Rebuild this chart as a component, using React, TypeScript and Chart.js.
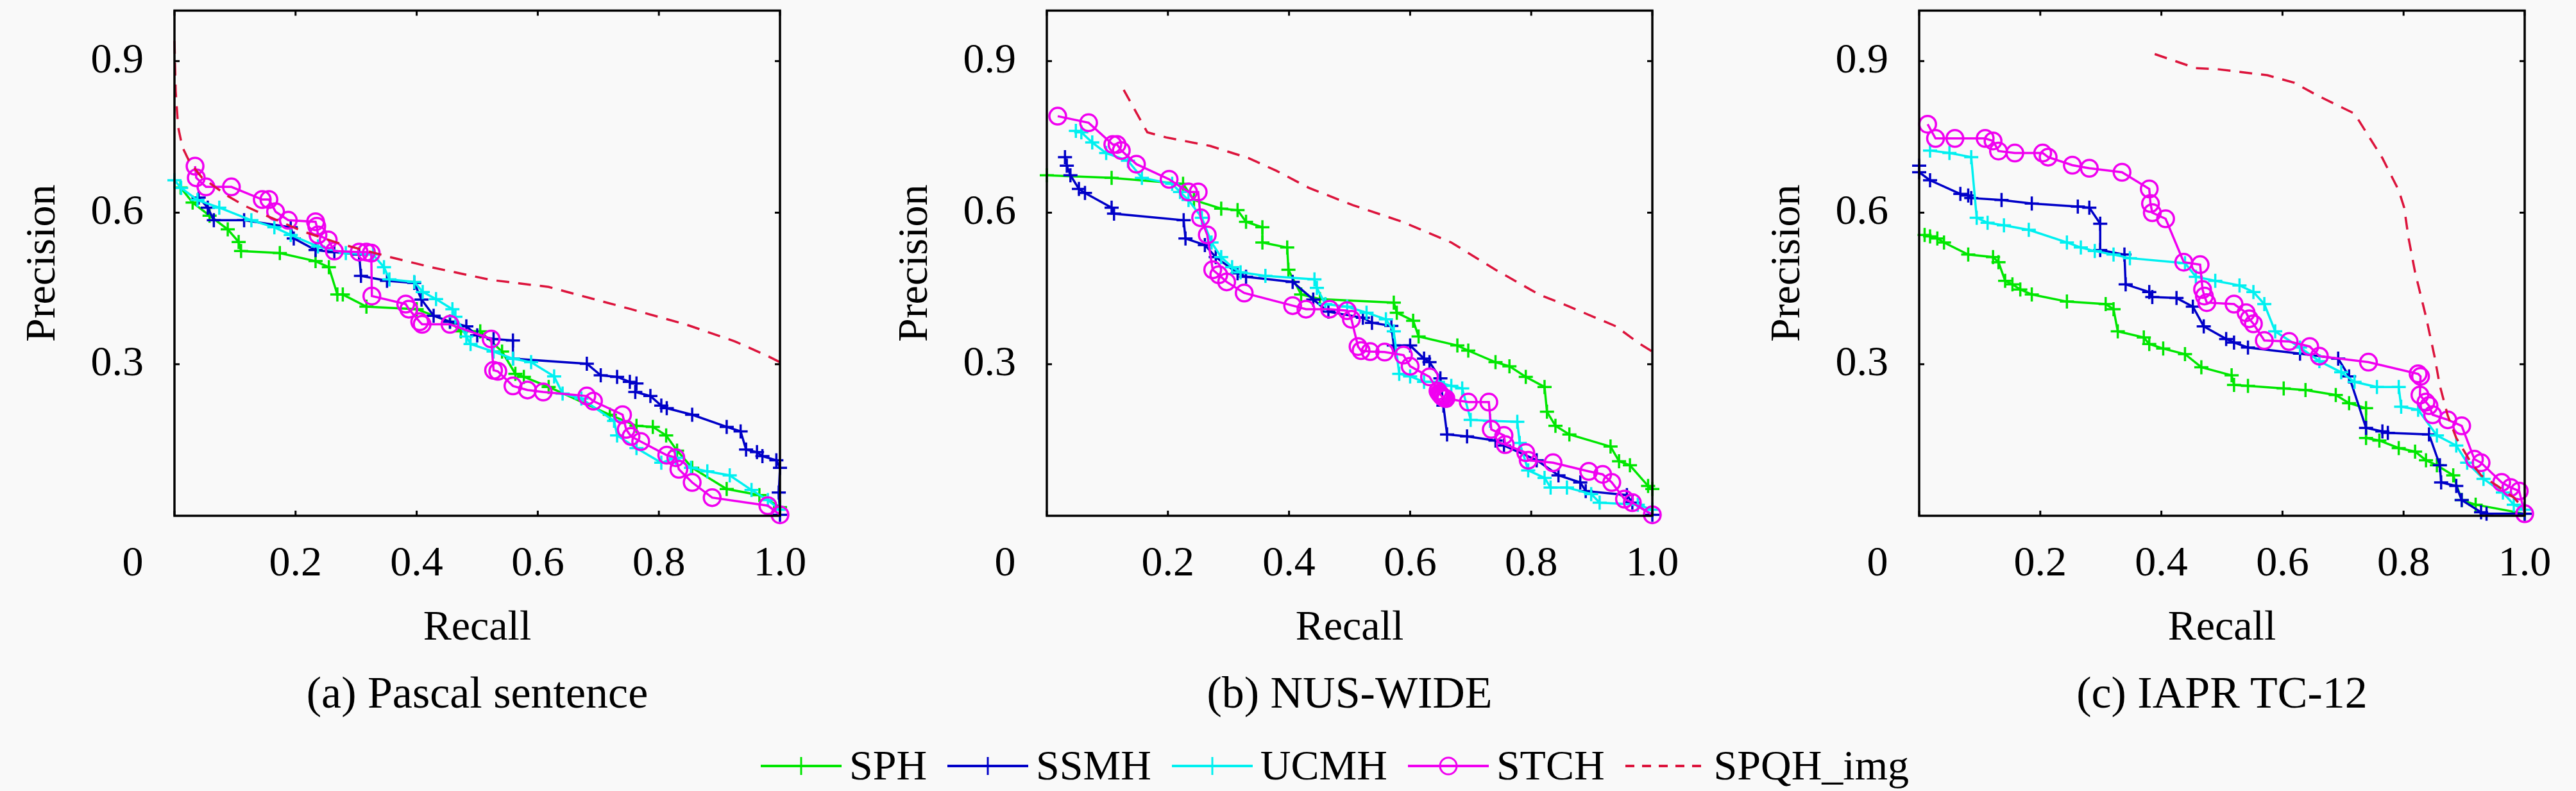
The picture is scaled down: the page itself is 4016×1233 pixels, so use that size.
import React, { useEffect, useRef } from 'react';
import { Chart, registerables } from 'chart.js';

Chart.register(...registerables);

type Pt = [number, number]; // [recall, precision]

const X_TICKS = [0, 0.2, 0.4, 0.6, 0.8, 1.0];
const X_LABELS = ['0', '0.2', '0.4', '0.6', '0.8', '1.0'];
const Y_TICKS = [0.3, 0.6, 0.9];
const Y_LABELS = ['0.3', '0.6', '0.9'];
const SERIES_NAMES = ['SPH', 'SSMH', 'UCMH', 'STCH', 'SPQH_img'];
const CAPTIONS = ['(a) Pascal sentence', '(b) NUS-WIDE', '(c) IAPR TC-12'];

// (a) Pascal sentence
const SPH_PASCAL: Pt[] = [
  [0.01, 0.65], [0.03, 0.62], [0.058, 0.594], [0.088, 0.567], [0.106, 0.542], [0.11, 0.524], [0.174, 0.52],
  [0.233, 0.504], [0.255, 0.492], [0.269, 0.438], [0.278, 0.438], [0.317, 0.414], [0.4, 0.409], [0.455, 0.384],
  [0.473, 0.365], [0.505, 0.365], [0.541, 0.325], [0.563, 0.281], [0.577, 0.275], [0.618, 0.255], [0.719, 0.2],
  [0.763, 0.178], [0.79, 0.176], [0.812, 0.159], [0.83, 0.129], [0.855, 0.095], [0.912, 0.053], [0.966, 0.041],
  [1.0, 0.017],
];
const SSMH_PASCAL: Pt[] = [
  [0.04, 0.63], [0.055, 0.61], [0.065, 0.585], [0.115, 0.585], [0.192, 0.571], [0.197, 0.549], [0.233, 0.526],
  [0.264, 0.522], [0.305, 0.517], [0.308, 0.475], [0.351, 0.465], [0.396, 0.461], [0.408, 0.428], [0.428, 0.396],
  [0.455, 0.384], [0.482, 0.375], [0.5, 0.357], [0.527, 0.35], [0.559, 0.347], [0.559, 0.311], [0.681, 0.301],
  [0.704, 0.278], [0.731, 0.275], [0.752, 0.265], [0.763, 0.262], [0.761, 0.245], [0.786, 0.237], [0.804, 0.218],
  [0.813, 0.213], [0.855, 0.2], [0.912, 0.176], [0.935, 0.167], [0.944, 0.131], [0.962, 0.126], [0.971, 0.118],
  [0.994, 0.11], [1.0, 0.095], [0.998, 0.046], [1.0, 0.002],
];
const UCMH_PASCAL: Pt[] = [
  [0, 0.664], [0.011, 0.649], [0.038, 0.625], [0.074, 0.61], [0.127, 0.585], [0.165, 0.571], [0.192, 0.556],
  [0.237, 0.533], [0.283, 0.52], [0.328, 0.517], [0.346, 0.492], [0.355, 0.468], [0.396, 0.463], [0.41, 0.443],
  [0.432, 0.429], [0.459, 0.409], [0.464, 0.394], [0.482, 0.355], [0.489, 0.34], [0.527, 0.325], [0.559, 0.311],
  [0.589, 0.304], [0.627, 0.276], [0.641, 0.242], [0.672, 0.232], [0.726, 0.188], [0.731, 0.159], [0.763, 0.134],
  [0.804, 0.105], [0.828, 0.115], [0.853, 0.095], [0.88, 0.088], [0.917, 0.08], [0.953, 0.051], [0.98, 0.031],
  [1.0, 0.012],
];
const STCH_PASCAL: Pt[] = [
  [0.034, 0.692], [0.036, 0.669], [0.052, 0.651], [0.094, 0.651], [0.145, 0.626], [0.156, 0.626], [0.167, 0.602],
  [0.188, 0.585], [0.233, 0.582], [0.235, 0.573], [0.237, 0.556], [0.254, 0.546], [0.264, 0.524], [0.305, 0.522],
  [0.317, 0.522], [0.325, 0.52], [0.326, 0.435], [0.382, 0.419], [0.387, 0.409], [0.405, 0.384], [0.409, 0.379],
  [0.455, 0.379], [0.523, 0.35], [0.527, 0.288], [0.534, 0.286], [0.559, 0.257], [0.583, 0.249], [0.609, 0.245],
  [0.681, 0.237], [0.692, 0.227], [0.74, 0.2], [0.746, 0.171], [0.754, 0.157], [0.77, 0.147], [0.813, 0.12],
  [0.828, 0.115], [0.833, 0.092], [0.855, 0.066], [0.888, 0.036], [0.98, 0.02], [1.0, 0.002],
];
const SPQH_PASCAL: Pt[] = [
  [0, 0.94], [0.002, 0.84], [0.006, 0.77], [0.013, 0.73], [0.025, 0.7], [0.045, 0.67], [0.088, 0.633],
  [0.117, 0.613], [0.148, 0.596], [0.212, 0.563], [0.275, 0.538], [0.353, 0.513], [0.424, 0.492], [0.522, 0.467],
  [0.618, 0.453], [0.754, 0.409], [0.844, 0.379], [0.926, 0.345], [0.98, 0.316], [1.0, 0.304],
];

// (b) NUS-WIDE
const SPH_NUS: Pt[] = [
  [0, 0.674], [0.107, 0.669], [0.225, 0.657], [0.243, 0.625], [0.288, 0.608], [0.315, 0.605], [0.329, 0.582],
  [0.356, 0.571], [0.356, 0.541], [0.397, 0.531], [0.399, 0.487], [0.42, 0.438], [0.451, 0.429], [0.573, 0.422],
  [0.578, 0.402], [0.605, 0.386], [0.614, 0.355], [0.678, 0.337], [0.696, 0.327], [0.741, 0.304], [0.764, 0.296],
  [0.791, 0.275], [0.822, 0.255], [0.826, 0.206], [0.84, 0.178], [0.863, 0.161], [0.931, 0.137], [0.945, 0.108],
  [0.963, 0.1], [0.993, 0.059], [1.0, 0.053],
];
const SSMH_NUS: Pt[] = [
  [0.03, 0.71], [0.033, 0.693], [0.039, 0.674], [0.053, 0.647], [0.063, 0.639], [0.107, 0.61], [0.111, 0.598],
  [0.226, 0.585], [0.229, 0.549], [0.261, 0.536], [0.279, 0.512], [0.315, 0.48], [0.329, 0.473], [0.406, 0.463],
  [0.44, 0.428], [0.465, 0.404], [0.522, 0.392], [0.537, 0.382], [0.569, 0.376], [0.573, 0.337], [0.6, 0.337],
  [0.623, 0.311], [0.632, 0.304], [0.65, 0.272], [0.655, 0.218], [0.661, 0.161], [0.694, 0.157], [0.741, 0.149],
  [0.755, 0.139], [0.809, 0.11], [0.845, 0.08], [0.881, 0.066], [0.89, 0.049], [0.958, 0.041], [0.967, 0.026],
  [1.0, 0.002],
];
const UCMH_NUS: Pt[] = [
  [0.048, 0.762], [0.057, 0.759], [0.075, 0.739], [0.098, 0.718], [0.134, 0.703], [0.157, 0.669], [0.207, 0.657],
  [0.22, 0.641], [0.234, 0.625], [0.256, 0.59], [0.272, 0.541], [0.288, 0.512], [0.306, 0.492], [0.32, 0.482],
  [0.361, 0.475], [0.442, 0.468], [0.446, 0.451], [0.46, 0.419], [0.496, 0.414], [0.528, 0.402], [0.56, 0.389],
  [0.573, 0.365], [0.582, 0.281], [0.6, 0.276], [0.623, 0.265], [0.646, 0.265], [0.668, 0.257], [0.686, 0.252],
  [0.7, 0.19], [0.732, 0.188], [0.777, 0.186], [0.781, 0.144], [0.795, 0.09], [0.822, 0.075], [0.832, 0.056],
  [0.859, 0.056], [0.899, 0.043], [0.913, 0.026], [0.976, 0.022], [1.0, 0.012],
];
const STCH_NUS: Pt[] = [
  [0.018, 0.791], [0.069, 0.778], [0.109, 0.735], [0.116, 0.735], [0.123, 0.723], [0.148, 0.696], [0.202, 0.666],
  [0.234, 0.641], [0.25, 0.641], [0.254, 0.59], [0.265, 0.556], [0.274, 0.487], [0.284, 0.477], [0.297, 0.463],
  [0.326, 0.441], [0.406, 0.416], [0.428, 0.409], [0.467, 0.409], [0.496, 0.406], [0.503, 0.389], [0.514, 0.335],
  [0.519, 0.327], [0.534, 0.325], [0.558, 0.324], [0.589, 0.318], [0.6, 0.296], [0.632, 0.275], [0.646, 0.247],
  [0.648, 0.243], [0.65, 0.24], [0.652, 0.237], [0.654, 0.235], [0.657, 0.233], [0.659, 0.232], [0.696, 0.225],
  [0.73, 0.225], [0.734, 0.171], [0.755, 0.159], [0.757, 0.141], [0.791, 0.125], [0.795, 0.11], [0.836, 0.105],
  [0.895, 0.088], [0.918, 0.082], [0.933, 0.066], [0.954, 0.033], [0.967, 0.026], [1.0, 0.002],
];
const SPQH_NUS: Pt[] = [
  [0.127, 0.843], [0.166, 0.759], [0.197, 0.749], [0.27, 0.732], [0.333, 0.708], [0.379, 0.683], [0.433, 0.649],
  [0.505, 0.615], [0.587, 0.582], [0.668, 0.541], [0.741, 0.487], [0.813, 0.438], [0.859, 0.416], [0.94, 0.375],
  [0.976, 0.343], [1.0, 0.325],
];

// (c) IAPR TC-12
const SPH_IAPR: Pt[] = [
  [0.009, 0.556], [0.018, 0.553], [0.03, 0.549], [0.041, 0.541], [0.081, 0.517], [0.122, 0.512], [0.131, 0.502],
  [0.142, 0.465], [0.154, 0.458], [0.167, 0.448], [0.186, 0.438], [0.244, 0.424], [0.308, 0.419], [0.321, 0.409],
  [0.328, 0.365], [0.371, 0.353], [0.38, 0.34], [0.403, 0.331], [0.439, 0.32], [0.466, 0.294], [0.516, 0.278],
  [0.52, 0.259], [0.543, 0.257], [0.602, 0.252], [0.638, 0.249], [0.688, 0.239], [0.71, 0.223], [0.738, 0.213],
  [0.738, 0.154], [0.76, 0.149], [0.792, 0.134], [0.819, 0.127], [0.837, 0.11], [0.855, 0.1], [0.882, 0.08],
  [0.896, 0.031], [0.919, 0.022], [1.0, 0.004],
];
const SSMH_IAPR: Pt[] = [
  [0, 0.693], [0, 0.68], [0.018, 0.664], [0.068, 0.637], [0.081, 0.634], [0.086, 0.629], [0.136, 0.625],
  [0.186, 0.618], [0.262, 0.612], [0.281, 0.61], [0.299, 0.578], [0.299, 0.526], [0.339, 0.517], [0.341, 0.458],
  [0.38, 0.443], [0.385, 0.433], [0.425, 0.431], [0.452, 0.414], [0.47, 0.375], [0.507, 0.35], [0.52, 0.343],
  [0.543, 0.333], [0.629, 0.321], [0.692, 0.311], [0.71, 0.276], [0.738, 0.174], [0.765, 0.167], [0.774, 0.164],
  [0.842, 0.161], [0.86, 0.1], [0.862, 0.066], [0.887, 0.059], [0.896, 0.031], [0.928, 0.007], [0.937, 0.004],
  [1.0, 0.004],
];
const UCMH_IAPR: Pt[] = [
  [0.018, 0.723], [0.05, 0.718], [0.086, 0.71], [0.095, 0.59], [0.113, 0.58], [0.14, 0.575], [0.181, 0.566],
  [0.244, 0.541], [0.267, 0.531], [0.29, 0.524], [0.321, 0.517], [0.348, 0.51], [0.439, 0.5], [0.457, 0.473],
  [0.489, 0.465], [0.529, 0.456], [0.552, 0.443], [0.57, 0.419], [0.588, 0.365], [0.629, 0.333], [0.661, 0.306],
  [0.697, 0.284], [0.719, 0.265], [0.756, 0.255], [0.792, 0.255], [0.796, 0.216], [0.824, 0.21], [0.855, 0.159],
  [0.887, 0.139], [0.905, 0.105], [0.932, 0.073], [0.964, 0.046], [0.982, 0.022], [1.0, 0.012],
];
const STCH_IAPR: Pt[] = [
  [0.014, 0.775], [0.027, 0.747], [0.059, 0.747], [0.109, 0.747], [0.122, 0.742], [0.131, 0.722], [0.158, 0.718],
  [0.204, 0.718], [0.213, 0.71], [0.253, 0.694], [0.281, 0.688], [0.335, 0.68], [0.38, 0.647], [0.382, 0.618],
  [0.385, 0.6], [0.407, 0.588], [0.437, 0.502], [0.464, 0.497], [0.468, 0.448], [0.471, 0.435], [0.475, 0.422],
  [0.52, 0.419], [0.54, 0.402], [0.545, 0.39], [0.552, 0.38], [0.57, 0.347], [0.611, 0.345], [0.645, 0.335],
  [0.661, 0.316], [0.742, 0.304], [0.824, 0.281], [0.828, 0.276], [0.827, 0.239], [0.837, 0.225], [0.842, 0.218],
  [0.848, 0.2], [0.873, 0.19], [0.896, 0.178], [0.917, 0.112], [0.928, 0.105], [0.962, 0.066], [0.977, 0.056],
  [0.991, 0.049], [1.0, 0.004],
];
const SPQH_IAPR: Pt[] = [
  [0.389, 0.914], [0.457, 0.886], [0.493, 0.884], [0.575, 0.872], [0.62, 0.857], [0.656, 0.833], [0.719, 0.796],
  [0.742, 0.752], [0.765, 0.708], [0.792, 0.644], [0.801, 0.61], [0.808, 0.551], [0.819, 0.482], [0.837, 0.394],
  [0.851, 0.316], [0.86, 0.257], [0.873, 0.198], [0.887, 0.154], [0.91, 0.108], [0.928, 0.08], [0.955, 0.059],
  [0.982, 0.036], [1.0, 0.012],
];

const PANELS: Pt[][][] = [
  [SPH_PASCAL, SSMH_PASCAL, UCMH_PASCAL, STCH_PASCAL, SPQH_PASCAL],
  [SPH_NUS, SSMH_NUS, UCMH_NUS, STCH_NUS, SPQH_NUS],
  [SPH_IAPR, SSMH_IAPR, UCMH_IAPR, STCH_IAPR, SPQH_IAPR],
];

// styling
const COLORS = ['#00e600', '#0000c8', '#00f0f0', '#f000f0', '#dc143c'];
const FONT_FAMILY = '"Liberation Serif", "Times New Roman", serif';
const FONT_SIZE = 66;
const BG = '#f9f9f9';
const CANVAS_W = 1360;
const CANVAS_H = 1040;
const TICK_PAD_X = 36;

const boxPlugin = {
  id: 'matlabBox',
  afterDraw(chart: any) {
    const { ctx, chartArea: a, scales } = chart;
    ctx.save();
    ctx.strokeStyle = '#000';
    ctx.lineWidth = 3.5;
    ctx.strokeRect(a.left, a.top, a.right - a.left, a.bottom - a.top);
    ctx.lineWidth = 3;
    const len = 8;
    ctx.beginPath();
    X_TICKS.forEach((v) => {
      const px = scales.x.getPixelForValue(v);
      ctx.moveTo(px, a.bottom);
      ctx.lineTo(px, a.bottom - len);
      ctx.moveTo(px, a.top);
      ctx.lineTo(px, a.top + len);
    });
    Y_TICKS.forEach((v) => {
      const py = scales.y.getPixelForValue(v);
      ctx.moveTo(a.left, py);
      ctx.lineTo(a.left + len, py);
      ctx.moveTo(a.right, py);
      ctx.lineTo(a.right - len, py);
    });
    ctx.stroke();
    // origin label sits left of the corner
    ctx.fillStyle = '#000';
    ctx.font = `${FONT_SIZE}px ${FONT_FAMILY}`;
    ctx.textAlign = 'center';
    ctx.textBaseline = 'middle';
    ctx.fillText(X_LABELS[0], scales.x.getPixelForValue(X_TICKS[0]) - 65, a.bottom + TICK_PAD_X + FONT_SIZE * 0.6);
    ctx.restore();
  },
};

const makeConfig = (idx: number): any => ({
  type: 'scatter',
  data: {
    datasets: PANELS[idx].map((pts, i) => ({
      label: SERIES_NAMES[i],
      data: pts.map(([x, y]) => ({ x, y })),
      showLine: true,
      borderColor: COLORS[i],
      backgroundColor: 'transparent',
      borderWidth: 3.5,
      borderDash: i === 4 ? [20, 14] : [],
      pointStyle: i === 3 ? 'circle' : 'cross',
      pointRadius: i === 4 ? 0 : i === 3 ? 13 : 11,
      pointBorderWidth: 3.5,
      pointBorderColor: COLORS[i],
      pointBackgroundColor: 'transparent',
      order: 5 - i,
      clip: false,
    })),
  },
  options: {
    animation: false,
    responsive: false,
    devicePixelRatio: 1,
    layout: { padding: { left: 0, right: 144, top: 0, bottom: 16 } },
    plugins: { legend: { display: false }, tooltip: { enabled: false } },
    scales: {
      x: {
        type: 'linear',
        min: 0,
        max: 1,
        afterBuildTicks: (s: any) => {
          s.ticks = X_TICKS.map((value) => ({ value }));
        },
        afterFit: (s: any) => {
          s.height = 220;
          s.paddingLeft = 0;
          s.paddingRight = 0;
          s.paddingTop = 0;
          s.paddingBottom = 0;
        },
        ticks: {
          autoSkip: false,
          maxRotation: 0,
          padding: TICK_PAD_X,
          color: '#000',
          font: { family: FONT_FAMILY, size: FONT_SIZE },
          callback: (_v: any, i: number) => (i === 0 ? '' : X_LABELS[i]),
        },
        grid: { display: false, drawTicks: false },
        border: { display: false },
        title: {
          display: true,
          text: 'Recall',
          color: '#000',
          font: { family: FONT_FAMILY, size: FONT_SIZE },
          padding: { top: 0, bottom: 5 },
        },
      },
      y: {
        type: 'linear',
        min: 0,
        max: 1,
        afterBuildTicks: (s: any) => {
          s.ticks = Y_TICKS.map((value) => ({ value }));
        },
        afterFit: (s: any) => {
          s.width = 272;
          s.paddingLeft = 0;
          s.paddingRight = 0;
          s.paddingTop = 0;
          s.paddingBottom = 0;
        },
        ticks: {
          autoSkip: false,
          padding: 48,
          color: '#000',
          font: { family: FONT_FAMILY, size: FONT_SIZE },
          callback: (_v: any, i: number) => Y_LABELS[i],
        },
        grid: { display: false, drawTicks: false },
        border: { display: false },
        title: {
          display: true,
          text: 'Precision',
          color: '#000',
          font: { family: FONT_FAMILY, size: FONT_SIZE },
          padding: { top: 28, bottom: 0 },
        },
      },
    },
  },
  plugins: [boxPlugin],
});

const Panel: React.FC<{ idx: number }> = ({ idx }) => {
  const canvasRef = useRef<HTMLCanvasElement>(null);

  useEffect(() => {
    if (!canvasRef.current) return;
    const chart = new Chart(canvasRef.current, makeConfig(idx));
    return () => {
      chart.destroy();
    };
  }, [idx]);

  return (
    <>
      <canvas
        ref={canvasRef}
        width={CANVAS_W}
        height={CANVAS_H}
        style={{ position: 'absolute', left: idx * CANVAS_W, top: 0, width: CANVAS_W, height: CANVAS_H }}
      />
      <div
        style={{
          position: 'absolute',
          left: idx * CANVAS_W + 272,
          top: 1045,
          width: 944,
          textAlign: 'center',
          fontFamily: FONT_FAMILY,
          fontSize: 70,
          lineHeight: 1,
          color: '#000',
          whiteSpace: 'nowrap',
        }}
      >
        {CAPTIONS[idx]}
      </div>
    </>
  );
};

const LegendGlyph: React.FC<{ i: number }> = ({ i }) => {
  const c = COLORS[i];
  const mid = 34;
  return (
    <svg width={126} height={66} style={{ display: 'block' }}>
      <line x1={0} y1={mid} x2={126} y2={mid} stroke={c} strokeWidth={4} strokeDasharray={i === 4 ? '14 12' : undefined} />
      {i === 3 && <circle cx={63} cy={mid} r={13} fill="none" stroke={c} strokeWidth={3} />}
      {i < 3 && (
        <g stroke={c} strokeWidth={3}>
          <line x1={52} y1={mid} x2={74} y2={mid} />
          <line x1={63} y1={mid - 14} x2={63} y2={mid + 14} />
        </g>
      )}
    </svg>
  );
};

const App: React.FC = () => (
  <div
    style={{
      position: 'fixed',
      left: 0,
      top: 0,
      width: 4016,
      height: 1233,
      background: BG,
      overflow: 'hidden',
    }}
  >
    {CAPTIONS.map((_, i) => (
      <Panel key={i} idx={i} />
    ))}
    <div
      style={{
        position: 'absolute',
        left: 1186,
        top: 1160,
        display: 'flex',
        alignItems: 'center',
        fontFamily: FONT_FAMILY,
        fontSize: FONT_SIZE,
        lineHeight: 1,
        color: '#000',
        whiteSpace: 'nowrap',
      }}
    >
      {SERIES_NAMES.map((name, i) => (
        <div key={name} style={{ display: 'flex', alignItems: 'center', marginRight: 32 }}>
          <LegendGlyph i={i} />
          <span style={{ marginLeft: 12 }}>{name}</span>
        </div>
      ))}
    </div>
  </div>
);

export default App;
